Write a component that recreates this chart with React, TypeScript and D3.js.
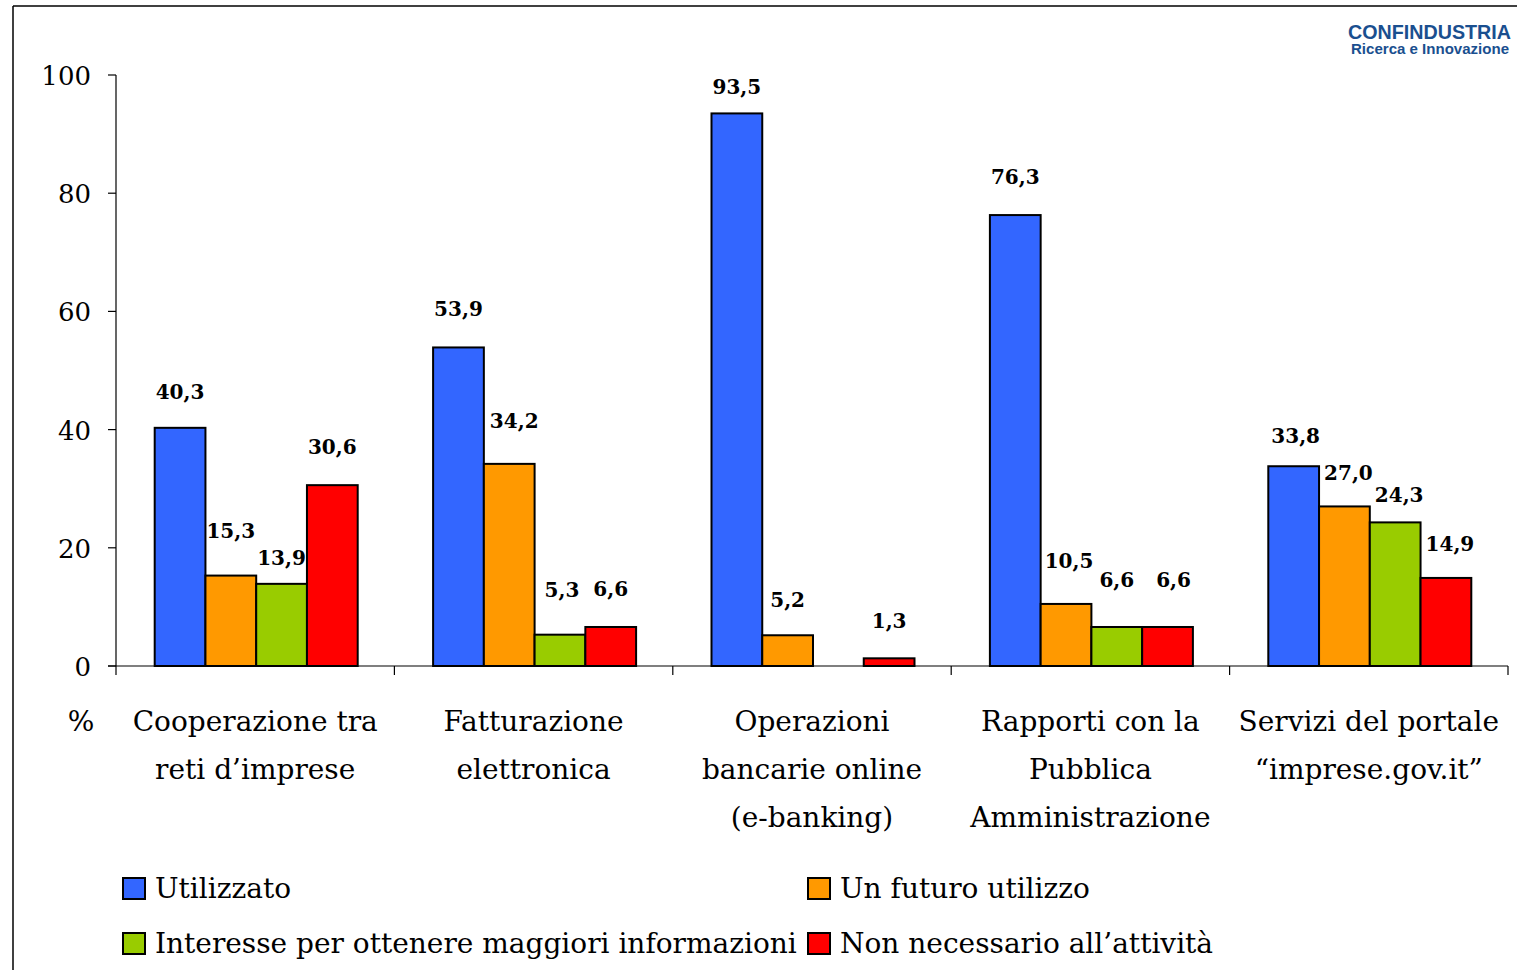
import React from "react";
import * as d3 from "d3";

const categories: string[][] = [
  ["Cooperazione tra", "reti d\u2019imprese"],
  ["Fatturazione", "elettronica"],
  ["Operazioni", "bancarie online", "(e-banking)"],
  ["Rapporti con la", "Pubblica", "Amministrazione"],
  ["Servizi del portale", "\u201cimprese.gov.it\u201d"],
];
const seriesNames = [
  "Utilizzato",
  "Un futuro utilizzo",
  "Interesse per ottenere maggiori informazioni",
  "Non necessario all\u2019attivit\u00e0",
];
const utilizzato = [40.3, 53.9, 93.5, 76.3, 33.8];
const futuro = [15.3, 34.2, 5.2, 10.5, 27.0];
const interesse = [13.9, 5.3, 0, 6.6, 24.3];
const nonNecessario = [30.6, 6.6, 1.3, 6.6, 14.9];
const yTicks = [0, 20, 40, 60, 80, 100];

const colors = ["#3366FF", "#FF9900", "#99CC00", "#FF0000"];
// label lift above bar top (px), per series then category (layout only)
const labelLift = [
  [29, 31, 19, 31, 23],
  [38, 36, 28, 36, 26],
  [19, 38, 0, 40, 20],
  [31, 31, 30, 40, 27],
];
// horizontal label nudges (px), layout only
const labelShift = [
  [0, 0, 0, 0, 2],
  [0, 5, 0, 3, 4],
  [0, 2, 0, 0, 4],
  [0, 0, 0, 6, 4],
];

const W = 1517, H = 970;
const serif = "'DejaVu Serif', serif";

export default function App() {
  const series = [utilizzato, futuro, interesse, nonNecessario];
  const x0 = d3.scaleBand<number>().domain(d3.range(categories.length)).range([116, 1508]).paddingInner(0).paddingOuter(0);
  const groupW = 203;
  const x1 = d3.scaleBand<number>().domain(d3.range(4)).range([0, groupW]);
  const y = d3.scaleLinear().domain([0, 100]).range([666, 75]);
  const fmt = (v: number) => v.toFixed(1).replace(".", ",");
  const gx0 = (c: number) => x0(c)! + (x0.bandwidth() - groupW) / 2 + 1;

  return (
    <svg width={W} height={H} style={{ position: "absolute", left: 0, top: 0, background: "#fff" }}>
      <line x1={13} y1={6} x2={W} y2={6} stroke="#000" strokeWidth={1.5} />
      <line x1={13} y1={6} x2={13} y2={H} stroke="#000" strokeWidth={1.5} />
      <text x={1511} y={39} textAnchor="end" fontFamily="'Liberation Sans', Arial, sans-serif" fontWeight="bold" fontSize={19.5} fill="#1a4f8f" textLength={163} lengthAdjust="spacingAndGlyphs">CONFINDUSTRIA</text>
      <text x={1509} y={54} textAnchor="end" fontFamily="'Liberation Sans', Arial, sans-serif" fontWeight="bold" fontSize={14} fill="#1a4f8f" textLength={158} lengthAdjust="spacingAndGlyphs">Ricerca e Innovazione</text>

      {/* y axis */}
      <line x1={116} y1={y(100)} x2={116} y2={y(0)} stroke="#000" strokeWidth={1.2} />
      {yTicks.map((t) => (
        <g key={t}>
          <line x1={108} x2={116} y1={y(t)} y2={y(t)} stroke="#000" strokeWidth={1.2} />
          <text x={91} y={y(t) + 10} textAnchor="end" fontFamily={serif} fontSize={26} fill="#000">{t}</text>
        </g>
      ))}
      {/* x axis */}
      <line x1={108} x2={1508} y1={y(0)} y2={y(0)} stroke="#000" strokeWidth={1.2} />
      {d3.range(categories.length + 1).map((i) => {
        const xx = i < categories.length ? x0(i)! : 1508;
        return <line key={i} x1={xx} x2={xx} y1={y(0)} y2={y(0) + 9} stroke="#000" strokeWidth={1.2} />;
      })}

      {/* bars */}
      {series.map((vals, s) =>
        vals.map((v, c) => {
          if (v <= 0) return null;
          return (
            <rect key={`${s}-${c}`} x={gx0(c) + x1(s)!} y={y(v)} width={x1.bandwidth()} height={y(0) - y(v)} fill={colors[s]} stroke="#000" strokeWidth={2} />
          );
        })
      )}
      {/* labels */}
      {series.map((vals, s) =>
        vals.map((v, c) => {
          if (v <= 0) return null;
          const cx = gx0(c) + x1(s)! + x1.bandwidth() / 2 + labelShift[s][c];
          return (
            <text key={`l${s}-${c}`} x={cx} y={y(v) - labelLift[s][c]} textAnchor="middle" fontFamily={serif} fontWeight="bold" fontSize={20} fill="#000">{fmt(v)}</text>
          );
        })
      )}

      {/* category labels */}
      <text x={81} y={731} textAnchor="middle" fontFamily={serif} fontSize={28}>%</text>
      {categories.map((lines, c) => (
        <text key={c} textAnchor="middle" fontFamily={serif} fontSize={28}>
          {lines.map((ln, i) => (
            <tspan key={i} x={x0(c)! + x0.bandwidth() / 2} y={731 + i * 48}>{ln}</tspan>
          ))}
        </text>
      ))}

      {/* legend */}
      {seriesNames.map((n, i) => {
        const col = i % 2, row = Math.floor(i / 2);
        const lx = col === 0 ? 123 : 808;
        const ly = row === 0 ? 878 : 933;
        return (
          <g key={n}>
            <rect x={lx} y={ly} width={22} height={21} fill={colors[i]} stroke="#000" strokeWidth={2} />
            <text x={lx + 32} y={ly + 20} fontFamily={serif} fontSize={28}>{n}</text>
          </g>
        );
      })}
    </svg>
  );
}
